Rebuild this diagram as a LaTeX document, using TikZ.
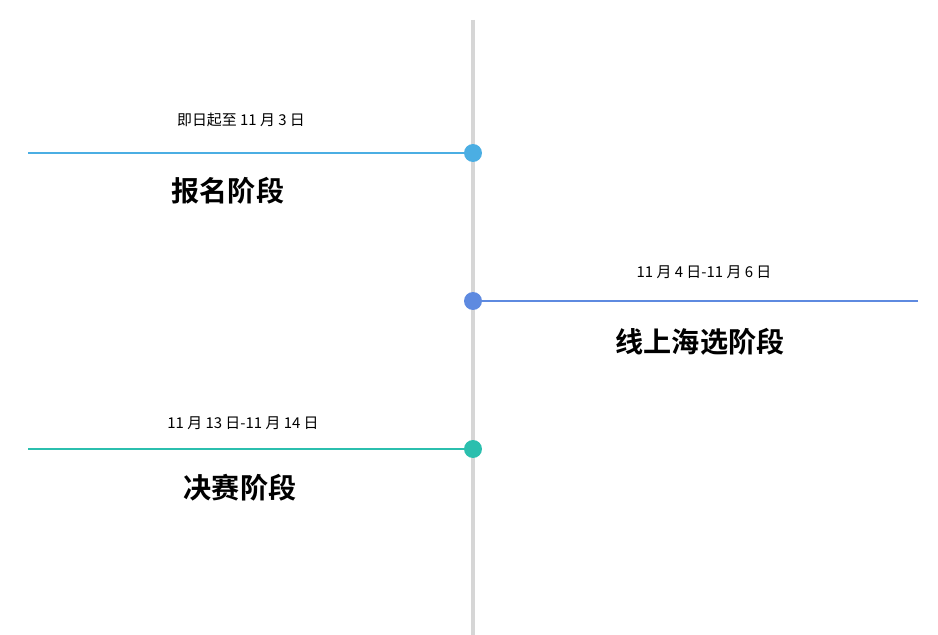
\documentclass[tikz,border=0pt]{standalone}
\usepackage{fontspec}
\newfontfamily\cjk{Noto Sans CJK SC}[BoldFont={Noto Sans CJK SC Bold}]
\definecolor{axisgray}{HTML}{D6D6D6}
\definecolor{signblue}{HTML}{4BAEE3}
\definecolor{onlineblue}{HTML}{5E8AE0}
\definecolor{finalteal}{HTML}{2BBFAE}

\begin{document}
\begin{tikzpicture}[
    x=0.02cm, y=-0.02cm,
    date/.style={font=\cjk\fontsize{8.5}{10}\selectfont},
    stage/.style={font=\cjk\bfseries\fontsize{16}{19}\selectfont},
    dot/.style={circle, fill=#1, inner sep=0pt, minimum size=0.36cm}
]
\useasboundingbox (0,0) rectangle (938,635);

% Axis
\coordinate (top) at (473,20);
\coordinate (bottom) at (473,635);
\draw[axisgray, line width=2.8pt] (top) -- (bottom);

% Stages
\coordinate (signL) at (28,153);
\coordinate (onlineR) at (918,301);
\coordinate (finalL) at (28,449);
\draw[signblue, thick] (signL) -- (473,153) node[dot=signblue] (sign) {};
\draw[onlineblue, thick] (onlineR) -- (473,301) node[dot=onlineblue] (online) {};
\draw[finalteal, thick] (finalL) -- (473,449) node[dot=finalteal] (final) {};

% Labels
\node[date] (signdate) at (241,120) {即日起至 11 月 3 日};
\node[stage] (signname) at (228,191) {报名阶段};
\node[date] (onlinedate) at (704,272) {11 月 4 日-11 月 6 日};
\node[stage] (onlinename) at (700,342) {线上海选阶段};
\node[date] (finaldate) at (243,423) {11 月 13 日-11 月 14 日};
\node[stage] (finalname) at (240,488) {决赛阶段};

\end{tikzpicture}
\end{document}
